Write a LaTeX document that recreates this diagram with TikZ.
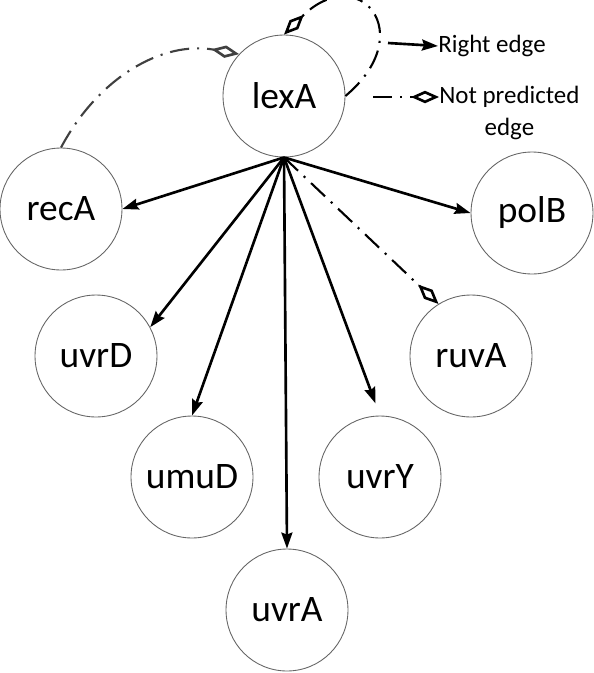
\documentclass[tikz,border=0pt]{standalone}
\usepackage{fontspec}
\setmainfont{Carlito}
\usetikzlibrary{arrows.meta}
\begin{document}
\begin{tikzpicture}[x=0.02cm, y=0.02cm,
        gene/.style={circle, draw=black!60, line width=0.5pt, minimum size=2.44cm, inner sep=0pt, font=\fontsize{21.3}{25}\selectfont},
        rightedge/.style={line width=1.5pt, -{Stealth[length=0.32cm, width=0.22cm, inset=0.04cm]}},
        notpred/.style={line width=1.2pt, dash pattern=on 11pt off 4.5pt on 1.2pt off 4.5pt, -{Diamond[open, length=0.56cm, width=0.25cm, line width=1.5pt]}},
        legend/.style={inner sep=0pt, font=\fontsize{14.2}{18.2}\selectfont, align=center}]
        \useasboundingbox (0,0) rectangle (594,-673);
        \node [gene] (lexA) at (284,-96) {lexA};
        \node [gene] (recA) at (61,-209) {recA};
        \node [gene] (polB) at (532,-213) {polB};
        \node [gene] (uvrD) at (96,-356) {uvrD};
        \node [gene] (ruvA) at (471,-356) {ruvA};
        \node [gene] (umuD) at (192,-477) {umuD};
        \node [gene] (uvrY) at (380,-477) {uvrY};
        \node [gene] (uvrA) at (287,-610) {uvrA};
        \coordinate (rstart) at (388,-43);
        \coordinate (nstart) at (373,-97);
        \node [legend, anchor=west] (rtext) at (438,-46) {Right edge};
        \node [legend, anchor=north west] (ntext) at (439,-86) {Not predicted\\edge};
        \draw [rightedge] (lexA.south) -- (recA.east);
        \draw [rightedge] (lexA.south) -- (polB.west);
        \draw [rightedge] (lexA.south) -- (uvrD.28);
        \draw [rightedge] (lexA.south) -- (umuD.north);
        \draw [rightedge] (lexA.south) -- (uvrA.north);
        \draw [rightedge, shorten >=0.26cm] (lexA.south) -- (uvrY.north);
        \draw [notpred] (lexA.south) -- (ruvA.122);
        \draw [notpred, black!75] (recA.north) to [out=62, in=170] (lexA.137);
        \draw [notpred] (lexA.east) .. controls +(40:98) and +(45:105) .. (lexA.north);
        \draw [rightedge] (rstart) -- (rtext.west);
        \draw [notpred] (nstart) -- (nstart -| ntext.west);
    \end{tikzpicture}
\end{document}
